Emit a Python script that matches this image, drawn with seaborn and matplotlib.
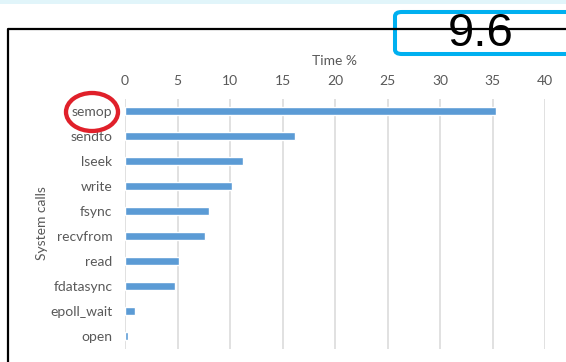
import matplotlib
matplotlib.use("Agg")
import matplotlib.pyplot as plt
from matplotlib.patches import Ellipse, FancyBboxPatch, Rectangle
from matplotlib.lines import Line2D
import seaborn as sns
import pandas as pd

# System call time shares (percent)
calls = ["semop", "sendto", "lseek", "write", "fsync", "recvfrom",
         "read", "fdatasync", "epoll_wait", "open"]
time_pct = [35.3, 16.2, 11.2, 10.2, 8.0, 7.65, 5.15, 4.75, 0.95, 0.25]
x_ticks = [0, 5, 10, 15, 20, 25, 30, 35, 40]
badge_value = "9.6"

df = pd.DataFrame({"call": calls, "time": time_pct})

sns.set_theme(style="white")
plt.rcParams["font.family"] = ["Lato", "DejaVu Sans"]

W, H = 566, 362
fig = plt.figure(figsize=(W / 100, H / 100), dpi=100)

def fx(px):
    return px / W

def fy(py):
    return 1 - py / H

ax = fig.add_axes([fx(125), fy(348.5), fx(545) - fx(125), fy(98.5) - fy(348.5)])
sns.barplot(data=df, x="time", y="call", orient="h", color="#5b9bd5",
            width=0.33, saturation=1, ax=ax, zorder=3)

ax.set_xlim(0, 40)
ax.set_xticks(x_ticks)
ax.xaxis.tick_top()
ax.xaxis.set_label_position("top")
ax.grid(axis="x", color="#d9d9d9", linewidth=1.1, zorder=0)
ax.set_axisbelow(True)
for s in ax.spines.values():
    s.set_visible(False)
ax.tick_params(axis="x", length=0, pad=8.5, labelsize=10, labelcolor="#595959")
ax.tick_params(axis="y", length=0, pad=9, labelsize=10, labelcolor="#595959")
ax.set_xlabel("Time %", fontsize=10, color="#595959", labelpad=7)
ax.set_ylabel("System calls", fontsize=10, color="#595959")
ax.yaxis.set_label_coords(-0.184, 0.5)

# light band across the top edge
fig.add_artist(Rectangle((0, fy(3.5)), 1, fy(0) - fy(3.5), transform=fig.transFigure,
                         facecolor="#e1f5fa", edgecolor="none"))

# outer frame
fig.add_artist(Line2D([fx(8), fx(8), fx(566)], [fy(370), fy(29), fy(29)],
                      transform=fig.transFigure, color="black", linewidth=1.6))

# red highlight around the top call
fig.add_artist(Ellipse((fx(92), fy(112)), fx(52), fy(0) - fy(38),
                       transform=fig.transFigure, facecolor="none",
                       edgecolor="#e0202a", linewidth=3.1))

# value badge in the top-right corner
fig.add_artist(FancyBboxPatch((fx(395), fy(54)), fx(580) - fx(395), fy(12) - fy(54),
                              boxstyle="round,pad=0,rounding_size=0.012",
                              transform=fig.transFigure, facecolor="white",
                              edgecolor="#00b0f0", linewidth=2.9))
fig.text(fx(481), fy(34), badge_value, ha="center", va="center", fontsize=34,
         color="black", family=["Liberation Sans", "DejaVu Sans"])

fig.savefig("out.png", dpi=100)
